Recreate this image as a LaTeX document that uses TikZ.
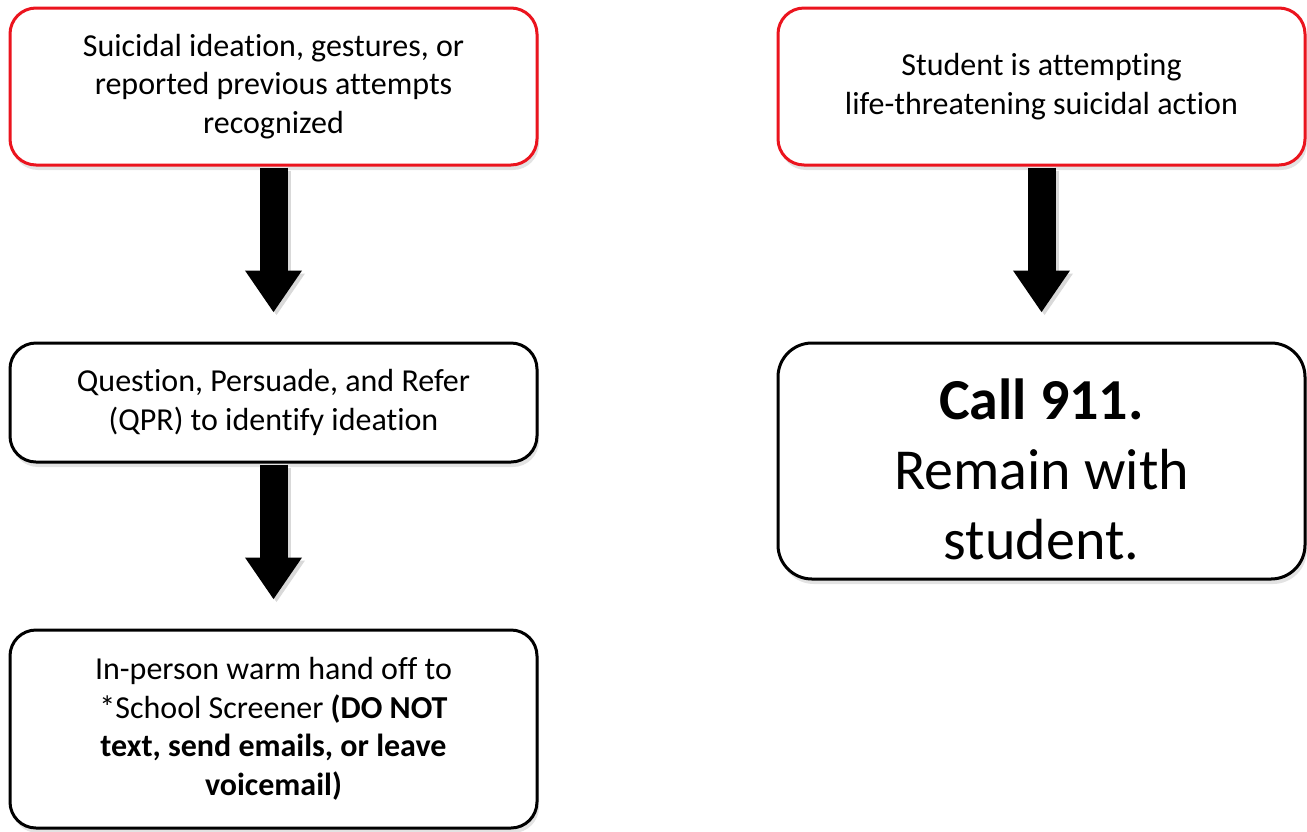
\documentclass[tikz,border=0pt]{standalone}
\usepackage{fontspec}
\setmainfont[Ligatures=NoCommon]{Carlito}
\usetikzlibrary{arrows.meta,shadows}
\definecolor{boxred}{RGB}{235,20,30}
\tikzset{
  box/.style={draw=black, line width=3pt, fill=white, rounded corners=26pt,
    minimum width=527pt, align=center, inner sep=0pt,
    drop shadow={shadow xshift=2pt, shadow yshift=-5pt, opacity=0.22},
    font=\fontsize{32}{38.5}\selectfont},
  redbox/.style={box, draw=boxred},
  bigarrow/.style={line width=28pt, -{Triangle[width=54pt,length=42pt]}, shorten >=29pt},
  arrowshadow/.style={bigarrow, draw=gray, opacity=0.3}
}
\begin{document}
\begin{tikzpicture}[x=1pt,y=-1pt]
\useasboundingbox (0,0) rectangle (1307,831);
\node[redbox, minimum height=157pt] (A) at (273.5,86.5)
  {Suicidal ideation, gestures, or\\reported previous attempts\\recognized};
\node[box, minimum height=119pt] (B) at (273.5,402.5)
  {Question, Persuade, and Refer\\(QPR) to identify ideation};
\node[box, minimum height=198pt] (C) at (273.5,729)
  {In-person warm hand off to\\*School Screener \textbf{(DO NOT}\\\textbf{text, send emails, or leave}\\\textbf{voicemail)}};
\node[redbox, minimum height=157pt] (D) at (1041.5,86.5)
  {Student is attempting\\life-threatening suicidal action};
\node[box, minimum height=236pt, rounded corners=34pt, font=\fontsize{58}{70}\selectfont] (E) at (1041.5,461)
  {\rule{0pt}{58pt}\textbf{Call 911.}\\Remain with\\student.};
% arrow shadows
\begin{scope}[transform canvas={shift={(3pt,-3pt)}}]
\draw[arrowshadow] ([yshift=-1pt]A.south) -- (B.north);
\draw[arrowshadow] ([yshift=-1pt]B.south) -- (C.north);
\draw[arrowshadow] ([yshift=-1pt]D.south) -- (E.north);
\end{scope}
\draw[bigarrow] ([yshift=-1pt]A.south) -- (B.north);
\draw[bigarrow] ([yshift=-1pt]B.south) -- (C.north);
\draw[bigarrow] ([yshift=-1pt]D.south) -- (E.north);
\end{tikzpicture}
\end{document}
